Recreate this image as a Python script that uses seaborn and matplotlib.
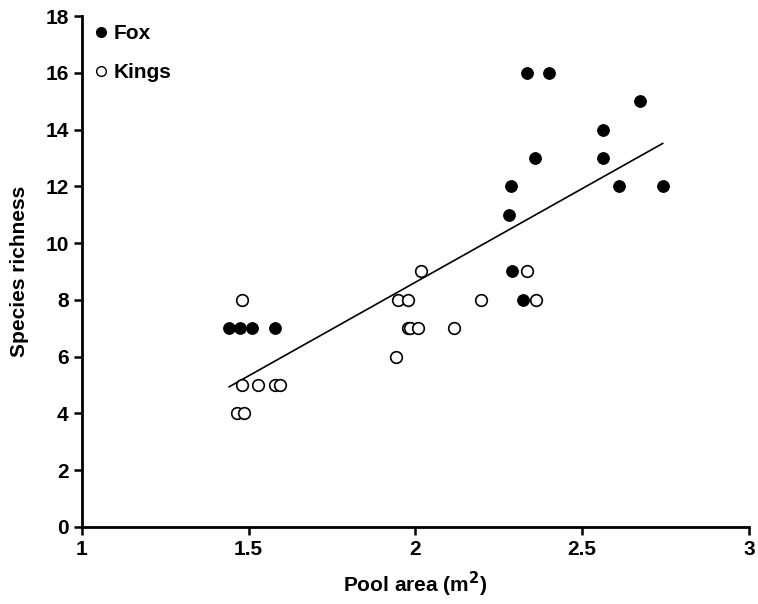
import pandas as pd
import matplotlib.pyplot as plt
import seaborn as sns
from matplotlib.lines import Line2D

fox_area = [1.441, 1.474, 1.510, 1.579, 2.334, 2.400, 2.673, 2.562, 2.358, 2.562,
            2.286, 2.610, 2.742, 2.280, 2.289, 2.322]
fox_richness = [7, 7, 7, 7, 16, 16, 15, 14, 13, 13, 12, 12, 12, 11, 9, 8]

kings_area = [1.480, 1.480, 1.528, 1.579, 1.594, 1.465, 1.486, 2.016, 1.947, 1.978,
              2.196, 2.361, 2.334, 1.978, 1.983, 2.008, 2.115, 1.942]
kings_richness = [8, 5, 5, 5, 5, 4, 4, 9, 8, 8, 8, 8, 9, 7, 7, 7, 7, 6]

df = pd.DataFrame({
    "area": fox_area + kings_area,
    "richness": fox_richness + kings_richness,
    "site": ["Fox"] * len(fox_area) + ["Kings"] * len(kings_area),
})

sns.set_style("ticks", {"text.color": "black", "axes.labelcolor": "black",
                        "xtick.color": "black", "ytick.color": "black"})
plt.rcParams["font.family"] = ["Liberation Sans", "DejaVu Sans"]

fig = plt.figure(figsize=(7.58, 6.04), dpi=100)
ax = fig.add_axes([0.108, 0.1275, 0.88, 0.846])

sns.regplot(data=df, x="area", y="richness", scatter=False, ci=None, truncate=True,
            line_kws={"color": "black", "lw": 1.2}, ax=ax)

fox = df[df.site == "Fox"]
kings = df[df.site == "Kings"]
sns.scatterplot(data=fox, x="area", y="richness", color="black", edgecolor="black",
                s=70, linewidth=0.8, ax=ax, zorder=3)
sns.scatterplot(data=kings, x="area", y="richness", facecolor="white", edgecolor="black",
                s=70, linewidth=1.2, ax=ax, zorder=3)

ax.set_xlim(1, 3)
ax.set_ylim(0, 18)
ax.set_xticks([1, 1.5, 2, 2.5, 3])
ax.set_xticklabels(["1", "1.5", "2", "2.5", "3"])
ax.set_yticks(range(0, 19, 2))
ax.tick_params(width=1.8, length=6, labelsize=15, colors="black", labelcolor="black")
for lab in ax.get_xticklabels() + ax.get_yticklabels():
    lab.set_fontweight("bold")
for s in ["left", "bottom"]:
    ax.spines[s].set_linewidth(2)
    ax.spines[s].set_color("black")
sns.despine(ax=ax)

ax.set_xlabel("Pool area (m$^\\mathbf{2}$)", fontsize=15, fontweight="bold", labelpad=8,
              color="black")
ax.set_ylabel("Species richness", fontsize=15, fontweight="bold", labelpad=12,
              color="black")

handles = [
    Line2D([], [], marker="o", ls="", color="black", markersize=7),
    Line2D([], [], marker="o", ls="", markerfacecolor="white", markeredgecolor="black",
           markersize=7),
]
ax.legend(handles, ["Fox", "Kings"], loc="upper left", bbox_to_anchor=(-0.005, 1.012),
          frameon=False, handlelength=0.8, handletextpad=0.2, labelspacing=0.95,
          borderaxespad=0.3, prop={"weight": "bold", "size": 15}, labelcolor="black")

fig.savefig("out.png", dpi=100)
